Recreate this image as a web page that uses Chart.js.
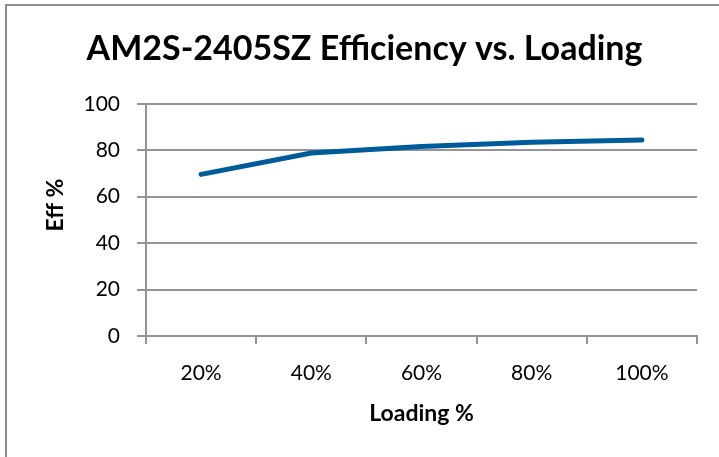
<!DOCTYPE html>
<html>
<head>
<meta charset="utf-8">
<script src="https://cdn.jsdelivr.net/npm/chart.js@4/dist/chart.umd.min.js"></script>
<style>
  html, body { margin: 0; padding: 0; background: #fff; }
  #wrap { position: relative; width: 719px; height: 457px; }
  canvas { display: block; }
</style>
</head>
<body>
<div id="wrap"><canvas id="c" width="719" height="457"></canvas></div>
<script>
// ---- data ----
const categories = ['20%', '40%', '60%', '80%', '100%'];
const efficiency = [69.6, 78.8, 81.6, 83.4, 84.4];
const yTicks = [0, 20, 40, 60, 80, 100];
const chartTitle = 'AM2S-2405SZ Efficiency vs. Loading';
const xTitle = 'Loading %';
const yTitle = 'Eff %';

const FONT = 'Lato, "Open Sans", sans-serif';
const GRID = '#949494';

const frame = {
  id: 'frame',
  beforeDraw(chart) {
    const ctx = chart.ctx;
    ctx.save();
    ctx.fillStyle = '#ffffff';
    ctx.fillRect(0, 0, chart.width, chart.height);
    ctx.strokeStyle = '#8c8c8c';
    ctx.lineWidth = 2;
    ctx.beginPath();
    ctx.moveTo(6, chart.height);
    ctx.lineTo(6, 5);
    ctx.lineTo(chart.width, 5);
    ctx.stroke();
    ctx.restore();
  },
  afterDraw(chart) {
    const ctx = chart.ctx;
    ctx.save();
    ctx.translate(56, 205);
    ctx.rotate(-Math.PI / 2);
    ctx.font = 'bold 23px ' + FONT;
    ctx.fillStyle = '#000';
    ctx.textAlign = 'center';
    ctx.textBaseline = 'middle';
    ctx.fillText(yTitle, 0, 0);
    ctx.restore();
  }
};

new Chart(document.getElementById('c'), {
  type: 'line',
  data: {
    labels: categories,
    datasets: [{
      data: efficiency,
      borderColor: '#005b9b',
      borderWidth: 5,
      borderCapStyle: 'round',
      borderJoinStyle: 'round',
      pointRadius: 0,
      tension: 0,
      fill: false
    }]
  },
  options: {
    responsive: false,
    animation: false,
    layout: { padding: { left: 32, right: 22, top: 0, bottom: 0 } },
    plugins: {
      legend: { display: false },
      tooltip: { enabled: false },
      title: {
        display: true,
        text: chartTitle,
        color: '#000',
        font: { family: FONT, size: 34, weight: 'bold' },
        padding: { top: 29, bottom: 34 }
      }
    },
    scales: {
      x: {
        offset: true,
        grid: { display: true, offset: true, drawOnChartArea: false, drawTicks: true, tickLength: 8, color: GRID, lineWidth: 2 },
        border: { display: true, color: GRID, width: 2 },
        ticks: { color: '#000', font: { family: FONT, size: 21 }, padding: 17, maxRotation: 0 },
        title: { display: true, text: xTitle, color: '#000', font: { family: FONT, size: 23, weight: 'bold' }, padding: { top: 0, bottom: 30 } },
        afterFit(s) { s.height = 121; }
      },
      y: {
        min: 0,
        max: 100,
        afterBuildTicks(s) { s.ticks = yTicks.map(v => ({ value: v })); },
        grid: { color: GRID, lineWidth: 2, tickLength: 9, drawTicks: true },
        border: { display: true, color: GRID, width: 2 },
        ticks: { color: '#000', font: { family: FONT, size: 21 }, padding: 17 },
        title: { display: false },
        afterFit(s) { s.width = 114; }
      }
    }
  },
  plugins: [frame]
});
</script>
</body>
</html>
